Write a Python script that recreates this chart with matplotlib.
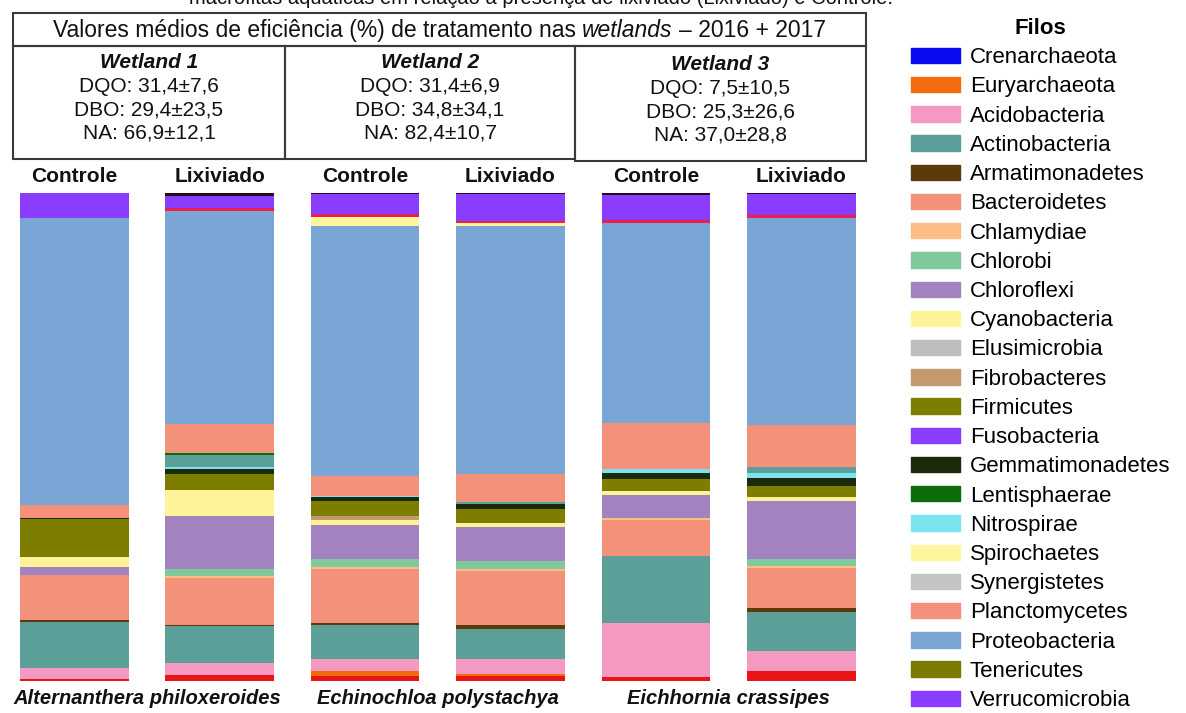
import numpy as np
import matplotlib
matplotlib.use("Agg")
import matplotlib.pyplot as plt
from matplotlib.patches import Rectangle, Patch

plt.rcParams['font.family'] = ['Liberation Sans', 'DejaVu Sans']

# stacking order, bottom -> top
stack_phyla = ["Outros (base)", "Euryarchaeota", "Acidobacteria", "Actinobacteria",
               "Armatimonadetes", "Bacteroidetes", "Chlamydiae", "Chlorobi",
               "Chloroflexi", "Cyanobacteria", "Fibrobacteres", "Firmicutes",
               "Gemmatimonadetes", "Nitrospirae", "Outros (teal)", "Lentisphaerae",
               "Planctomycetes", "Proteobacteria", "Spirochaetes", "Outros (topo)",
               "Verrucomicrobia", "Outros (escuro)"]

# relative abundance (%) per sample, same order as stack_phyla
ctrl_w1 = [0.4, 0, 2.3, 9.5, 0.3, 9.4, 0, 0, 1.7, 2.0, 0, 7.8, 0.3, 0, 0, 0, 2.7, 59.1, 0, 0, 5.2, 0]
lix_w1 = [1.3, 0, 2.4, 7.5, 0.3, 9.6, 0.4, 1.4, 10.8, 5.5, 0, 3.1, 1.2, 0.4, 2.3, 0.5, 5.9, 43.6, 0, 0.6, 2.4, 0.7]
ctrl_w2 = [1.1, 0.9, 2.6, 6.8, 0.5, 11.1, 0.3, 1.7, 7.0, 1.0, 0.8, 3.1, 0.7, 0.3, 0, 0, 4.1, 51.2, 1.8, 0.5, 4.1, 0.3]
lix_w2 = [1.0, 0.5, 3.1, 6.1, 0.7, 11.2, 0.3, 1.7, 6.9, 0.8, 0, 2.9, 1.0, 0, 0.5, 0, 5.6, 50.7, 0.8, 0.35, 5.5, 0.2]
ctrl_w3 = [0.8, 0, 11.1, 13.7, 0, 7.4, 0.3, 0, 4.8, 0.7, 0, 2.5, 1.2, 0.8, 0, 0, 9.4, 41.0, 0, 0.5, 5.1, 0.5]
lix_w3 = [2.0, 0, 4.1, 7.9, 0.8, 8.2, 0.3, 1.6, 11.7, 0.9, 0, 2.2, 1.6, 1.0, 1.2, 0, 8.5, 42.2, 0, 0.7, 4.1, 0.3]

samples = [ctrl_w1, lix_w1, ctrl_w2, lix_w2, ctrl_w3, lix_w3]
sample_labels = ["Controle", "Lixiviado", "Controle", "Lixiviado", "Controle", "Lixiviado"]
species = ["Alternanthera philoxeroides", "Echinochloa polystachya", "Eichhornia crassipes"]

wetlands = ["Wetland 1", "Wetland 2", "Wetland 3"]
dqo = ["31,4±7,6", "31,4±6,9", "7,5±10,5"]
dbo = ["29,4±23,5", "34,8±34,1", "25,3±26,6"]
na = ["66,9±12,1", "82,4±10,7", "37,0±28,8"]

legend_names = ["Crenarchaeota", "Euryarchaeota", "Acidobacteria", "Actinobacteria",
                "Armatimonadetes", "Bacteroidetes", "Chlamydiae", "Chlorobi", "Chloroflexi",
                "Cyanobacteria", "Elusimicrobia", "Fibrobacteres", "Firmicutes", "Fusobacteria",
                "Gemmatimonadetes", "Lentisphaerae", "Nitrospirae", "Spirochaetes",
                "Synergistetes", "Planctomycetes", "Proteobacteria", "Tenericutes",
                "Verrucomicrobia"]

colors = {
    "Crenarchaeota": "#0a0af0", "Euryarchaeota": "#f26b0f", "Acidobacteria": "#f49ac2",
    "Actinobacteria": "#5c9e98", "Armatimonadetes": "#5c3a0c", "Bacteroidetes": "#f4917a",
    "Chlamydiae": "#fbbf86", "Chlorobi": "#7fc99a", "Chloroflexi": "#a283c0",
    "Cyanobacteria": "#fff39a", "Elusimicrobia": "#bdbdbd", "Fibrobacteres": "#c39a6b",
    "Firmicutes": "#7d7d00", "Fusobacteria": "#8b3dff", "Gemmatimonadetes": "#1a2a0a",
    "Lentisphaerae": "#0b6e0b", "Nitrospirae": "#7ae3ef", "Spirochaetes": "#fff59d",
    "Synergistetes": "#c4c4c4", "Planctomycetes": "#f4917a", "Proteobacteria": "#7aa6d6",
    "Tenericutes": "#7a7a00", "Verrucomicrobia": "#8a3cff",
    "Outros (base)": "#e81416", "Outros (teal)": "#5c9e98",
    "Outros (topo)": "#e8204a", "Outros (escuro)": "#2a0a1a",
}

W, H = 1186, 713
fig = plt.figure(figsize=(W / 100, H / 100), dpi=100)


def fx(x):
    return x / W


def fy(y):
    return 1 - y / H


# stacked bars
ax = fig.add_axes([fx(1.6), fy(681), fx(872.4), fy(193) - fy(681)])
data = np.array(samples, dtype=float).T
data = data / data.sum(axis=0) * 100
xpos = np.arange(len(samples))
bottom = np.zeros(len(samples))
for name, vals in zip(stack_phyla, data):
    ax.bar(xpos, vals, bottom=bottom, width=0.746, color=colors[name], linewidth=0)
    bottom += vals
ax.set_xlim(-0.5, 5.5)
ax.set_ylim(0, 100)
ax.axis("off")

lab_y = (fy(176) - fy(681)) / (fy(193) - fy(681))
for i, lab in enumerate(sample_labels):
    ax.text(xpos[i], lab_y, lab, transform=ax.get_xaxis_transform(), ha="center",
            va="center", fontsize=15, fontweight="bold", color="#111")
sp_y = (fy(698) - fy(681)) / (fy(193) - fy(681))
for k, sp in enumerate(species):
    ax.text((xpos[2 * k] + xpos[2 * k + 1]) / 2, sp_y, sp, transform=ax.get_xaxis_transform(),
            ha="center", va="center", fontsize=14.5, fontweight="bold", style="italic", color="#111")

# header table
box_kw = dict(transform=fig.transFigure, fill=False, ec="#3a3a3a", lw=1.5)
fig.add_artist(Rectangle((fx(13), fy(46)), fx(866 - 13), fy(13) - fy(46), **box_kw))
cells = [(13, 285, 159), (285, 575, 159), (575, 866, 161)]
for (x0, x1, yb), wl, a, b, c in zip(cells, wetlands, dqo, dbo, na):
    fig.add_artist(Rectangle((fx(x0), fy(yb)), fx(x1 - x0), fy(46) - fy(yb), **box_kw))
    cx = fx((x0 + x1) / 2)
    off = (yb - 159)
    fig.text(cx, fy(62 + off), wl, ha="center", va="center", fontsize=15,
             fontweight="bold", style="italic", color="#111")
    fig.text(cx, fy(86 + off), "DQO: " + a, ha="center", va="center", fontsize=15, color="#111")
    fig.text(cx, fy(110 + off), "DBO: " + b, ha="center", va="center", fontsize=15, color="#111")
    fig.text(cx, fy(133 + off), "NA: " + c, ha="center", va="center", fontsize=15, color="#111")

# title row with italic "wetlands"
title_fs = 16.5
pieces = [("Valores médios de eficiência (%) de tratamento nas", "normal"),
          ("wetlands", "italic"), ("– 2016 + 2017", "normal")]
tobjs = [fig.text(0, fy(37), s, ha="left", va="baseline", fontsize=title_fs, style=st, color="#111")
         for s, st in pieces]
fig.canvas.draw()
rend = fig.canvas.get_renderer()
widths = [t.get_window_extent(rend).width for t in tobjs]
gap = 0.278 * title_fs * 100 / 72
total = sum(widths) + gap * (len(widths) - 1)
x = (13 + 866) / 2 - total / 2
for t, w in zip(tobjs, widths):
    t.set_x(fx(x))
    x += w + gap

# cut-off caption line at the very top (as in the source image)
fig.text(fx(893), fy(4), "macrófitas aquáticas em relação à presença de lixiviado (Lixiviado) e Controle.",
         ha="right", va="baseline", fontsize=14.5, color="#111")

# legend
handles = [Patch(facecolor=colors[n], edgecolor=colors[n]) for n in legend_names]
fig.legend(handles, legend_names, loc="upper left", bbox_to_anchor=(fx(911), fy(18)),
           frameon=False, title="Filos", title_fontproperties={"weight": "bold", "size": 16},
           fontsize=16, handlelength=2.2, handleheight=0.68, handletextpad=0.45,
           labelspacing=0.37, borderaxespad=0, borderpad=0)

fig.savefig("out.png", dpi=100)
